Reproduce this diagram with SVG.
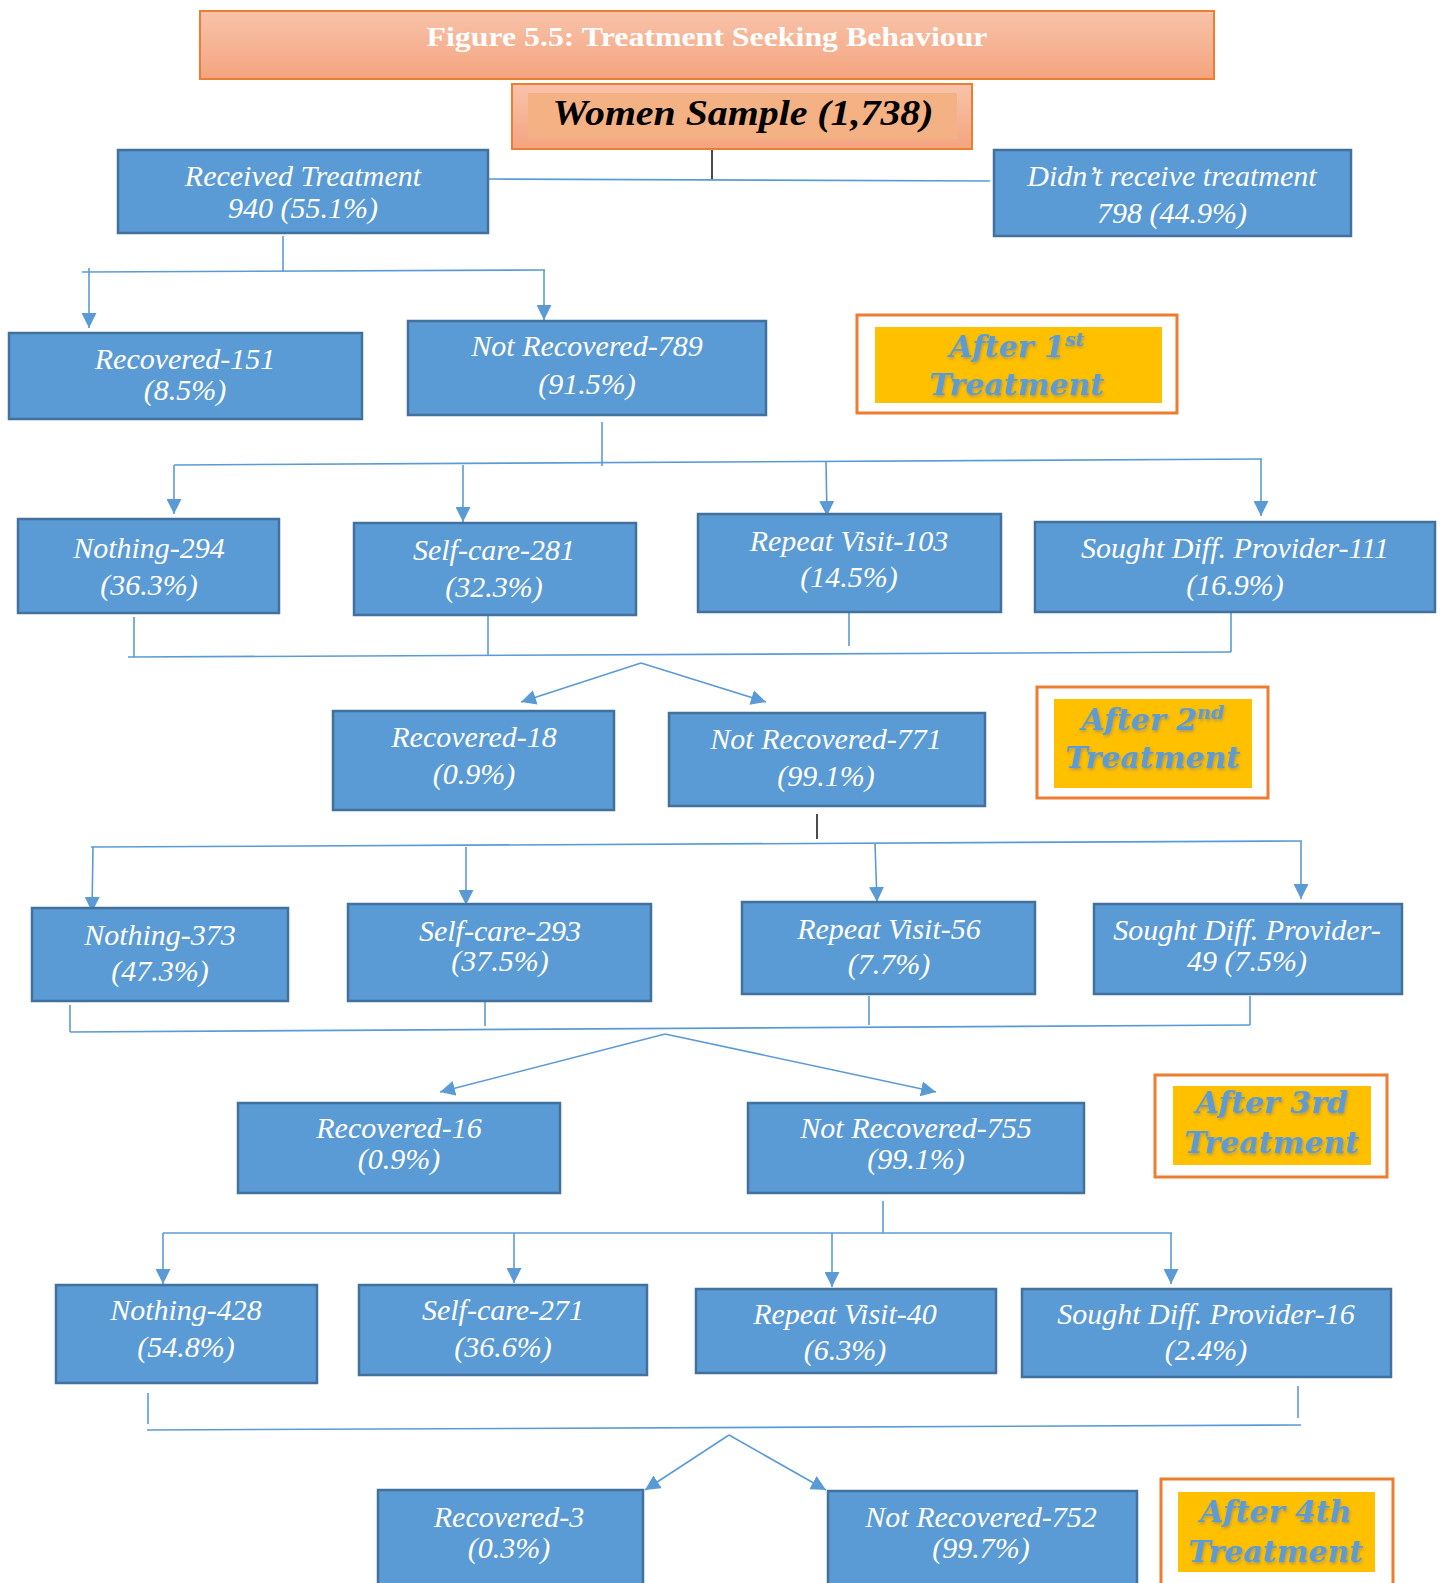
<svg xmlns="http://www.w3.org/2000/svg" width="1446" height="1583" viewBox="0 0 1446 1583">
<style>
.box{fill:#5b9bd5;stroke:#41719c;stroke-width:2.5}
.t{font-family:"Liberation Serif","Times New Roman",serif;font-style:italic;font-size:30px;fill:#ffffff;text-anchor:middle}
.ab{fill:#ffffff;stroke:#ed7d31;stroke-width:3}
.ai{fill:#ffc000}
.at{font-family:"DejaVu Serif",Georgia,serif;font-style:italic;font-weight:bold;font-size:30px;fill:#5b9bd5;text-anchor:middle}
.c{fill:none;stroke:#5b9bd5;stroke-width:1.6}
.a{fill:none;stroke:#5b9bd5;stroke-width:1.6;marker-end:url(#arr)}
.k{fill:none;stroke:#000000;stroke-width:1.4}
</style>
<defs>
<linearGradient id="og" x1="0" y1="0" x2="0" y2="1">
<stop offset="0" stop-color="#f8c3aa"/>
<stop offset="1" stop-color="#f4a47f"/>
</linearGradient>
<marker id="arr" viewBox="0 0 10 10" refX="10" refY="5" markerWidth="15" markerHeight="15" markerUnits="userSpaceOnUse" orient="auto">
<path d="M0,0 L10,5 L0,10 z" fill="#5b9bd5"/>
</marker>
<filter id="sh" x="-10%" y="-20%" width="120%" height="140%">
<feGaussianBlur in="SourceAlpha" stdDeviation="1.8" result="b"/>
<feOffset dx="1" dy="2" result="o"/>
<feFlood flood-color="#7f7f7f" flood-opacity="0.6"/>
<feComposite in2="o" operator="in" result="s"/>
<feMerge><feMergeNode in="s"/><feMergeNode in="SourceGraphic"/></feMerge>
</filter>
</defs>

<g id="title">
<rect x="200" y="11" width="1014" height="68" fill="url(#og)" stroke="#ed7d31" stroke-width="2"/>
<text x="707" y="46" font-family="Liberation Serif,serif" font-weight="bold" font-size="27" fill="#ffffff" text-anchor="middle" textLength="561" lengthAdjust="spacingAndGlyphs">Figure 5.5: Treatment Seeking Behaviour</text>
</g>

<g id="women-sample">
<rect x="512" y="84" width="460" height="65" fill="url(#og)" stroke="#ed7d31" stroke-width="2"/>
<rect x="528" y="93" width="429" height="46" fill="#f4b183"/>
<text x="743" y="125" font-family="Liberation Serif,serif" font-style="italic" font-weight="bold" font-size="36" fill="#000000" text-anchor="middle" textLength="381" lengthAdjust="spacingAndGlyphs">Women Sample (1,738)</text>
</g>

<g id="connectors">
<path class="k" d="M712,150 L712,180"/>
<path class="c" d="M488,179 L990,181"/>
<path class="c" d="M283,236 L283,272"/>
<path class="c" d="M82,272 L545,270"/>
<path class="a" d="M89,268 L89,328"/>
<path class="a" d="M544,270 L544,320"/>

<path class="c" d="M602,422 L602,466"/>
<path class="c" d="M174,465 L1262,459"/>
<path class="a" d="M174,465 L174,514"/>
<path class="a" d="M463,465 L463,522"/>
<path class="a" d="M826,462 L827,516"/>
<path class="a" d="M1261,459 L1261,516"/>

<path class="c" d="M134,617 L134,657"/>
<path class="c" d="M488,615 L488,655"/>
<path class="c" d="M849,613 L849,646"/>
<path class="c" d="M1231,612 L1231,652"/>
<path class="c" d="M128,657 L1231,652"/>
<path class="a" d="M641,663 L521,702"/>
<path class="a" d="M641,663 L766,702"/>

<path class="k" d="M817,814 L817,839"/>
<path class="c" d="M91,847 L1302,841"/>
<path class="a" d="M93,847 L92,912"/>
<path class="a" d="M466,847 L466,905"/>
<path class="a" d="M875,844 L877,902"/>
<path class="a" d="M1301,841 L1301,899"/>

<path class="c" d="M70,1005 L70,1032"/>
<path class="c" d="M485,1002 L485,1026"/>
<path class="c" d="M869,996 L869,1025"/>
<path class="c" d="M1250,996 L1250,1025"/>
<path class="c" d="M70,1032 L1250,1025"/>
<path class="a" d="M665,1034 L440,1092"/>
<path class="a" d="M665,1034 L936,1092"/>

<path class="c" d="M883,1201 L883,1233"/>
<path class="c" d="M163,1233 L1172,1233"/>
<path class="a" d="M163,1233 L163,1284"/>
<path class="a" d="M514,1233 L514,1283"/>
<path class="a" d="M832,1233 L832,1287"/>
<path class="a" d="M1171,1233 L1171,1284"/>

<path class="c" d="M148,1393 L148,1424"/>
<path class="c" d="M1298,1386 L1298,1418"/>
<path class="c" d="M147,1430 L1301,1425"/>
<path class="a" d="M729,1435 L645,1490"/>
<path class="a" d="M729,1435 L826,1490"/>
</g>

<g id="received"><rect class="box" x="118" y="150" width="370" height="83"/>
<text class="t" x="303" y="186">Received Treatment</text><text class="t" x="303" y="218">940 (55.1%)</text></g>
<g id="didnt"><rect class="box" x="994" y="150" width="357" height="86"/>
<text class="t" x="1172" y="186">Didn’t receive treatment</text><text class="t" x="1172" y="223">798 (44.9%)</text></g>

<g id="rec151"><rect class="box" x="9" y="333" width="353" height="86"/>
<text class="t" x="185" y="369">Recovered-151</text><text class="t" x="185" y="400">(8.5%)</text></g>
<g id="notrec789"><rect class="box" x="408" y="321" width="358" height="94"/>
<text class="t" x="587" y="356">Not Recovered-789</text><text class="t" x="587" y="394">(91.5%)</text></g>

<g id="after1"><rect class="ab" x="857" y="315" width="320" height="98"/><rect class="ai" x="875" y="327" width="287" height="76"/>
<text class="at" x="1017" y="357" filter="url(#sh)">After 1<tspan font-size="19" dy="-11">st</tspan></text>
<text class="at" x="1017" y="395" filter="url(#sh)">Treatment</text></g>

<g id="nothing294"><rect class="box" x="18" y="519" width="261" height="94"/>
<text class="t" x="149" y="558">Nothing-294</text><text class="t" x="149" y="595">(36.3%)</text></g>
<g id="selfcare281"><rect class="box" x="354" y="523" width="282" height="92"/>
<text class="t" x="494" y="560">Self-care-281</text><text class="t" x="494" y="597">(32.3%)</text></g>
<g id="repeat103"><rect class="box" x="698" y="514" width="303" height="98"/>
<text class="t" x="849" y="551">Repeat Visit-103</text><text class="t" x="849" y="587">(14.5%)</text></g>
<g id="sought111"><rect class="box" x="1035" y="522" width="400" height="90"/>
<text class="t" x="1235" y="558">Sought Diff. Provider-111</text><text class="t" x="1235" y="595">(16.9%)</text></g>

<g id="rec18"><rect class="box" x="333" y="711" width="281" height="99"/>
<text class="t" x="474" y="747">Recovered-18</text><text class="t" x="474" y="784">(0.9%)</text></g>
<g id="notrec771"><rect class="box" x="669" y="713" width="316" height="93"/>
<text class="t" x="826" y="749">Not Recovered-771</text><text class="t" x="826" y="786">(99.1%)</text></g>

<g id="after2"><rect class="ab" x="1037" y="687" width="231" height="111"/><rect class="ai" x="1054" y="699" width="198" height="89"/>
<text class="at" x="1153" y="730" filter="url(#sh)">After 2<tspan font-size="19" dy="-11">nd</tspan></text>
<text class="at" x="1153" y="768" filter="url(#sh)">Treatment</text></g>

<g id="nothing373"><rect class="box" x="32" y="908" width="256" height="93"/>
<text class="t" x="160" y="945">Nothing-373</text><text class="t" x="160" y="981">(47.3%)</text></g>
<g id="selfcare293"><rect class="box" x="348" y="904" width="303" height="97"/>
<text class="t" x="500" y="941">Self-care-293</text><text class="t" x="500" y="971">(37.5%)</text></g>
<g id="repeat56"><rect class="box" x="742" y="902" width="293" height="92"/>
<text class="t" x="889" y="939">Repeat Visit-56</text><text class="t" x="889" y="974">(7.7%)</text></g>
<g id="sought49"><rect class="box" x="1094" y="904" width="308" height="90"/>
<text class="t" x="1247" y="940">Sought Diff. Provider-</text><text class="t" x="1247" y="971">49 (7.5%)</text></g>

<g id="rec16"><rect class="box" x="238" y="1103" width="322" height="90"/>
<text class="t" x="399" y="1138">Recovered-16</text><text class="t" x="399" y="1169">(0.9%)</text></g>
<g id="notrec755"><rect class="box" x="748" y="1103" width="336" height="90"/>
<text class="t" x="916" y="1138">Not Recovered-755</text><text class="t" x="916" y="1169">(99.1%)</text></g>

<g id="after3"><rect class="ab" x="1155" y="1075" width="232" height="102"/><rect class="ai" x="1173" y="1086" width="198" height="79"/>
<text class="at" x="1272" y="1113" filter="url(#sh)">After 3rd</text>
<text class="at" x="1272" y="1153" filter="url(#sh)">Treatment</text></g>

<g id="nothing428"><rect class="box" x="56" y="1285" width="261" height="98"/>
<text class="t" x="186" y="1320">Nothing-428</text><text class="t" x="186" y="1357">(54.8%)</text></g>
<g id="selfcare271"><rect class="box" x="359" y="1285" width="288" height="90"/>
<text class="t" x="503" y="1320">Self-care-271</text><text class="t" x="503" y="1357">(36.6%)</text></g>
<g id="repeat40"><rect class="box" x="696" y="1289" width="300" height="84"/>
<text class="t" x="845" y="1324">Repeat Visit-40</text><text class="t" x="845" y="1360">(6.3%)</text></g>
<g id="sought16"><rect class="box" x="1022" y="1289" width="369" height="88"/>
<text class="t" x="1206" y="1324">Sought Diff. Provider-16</text><text class="t" x="1206" y="1360">(2.4%)</text></g>

<g id="rec3"><rect class="box" x="378" y="1490" width="265" height="110"/>
<text class="t" x="509" y="1527">Recovered-3</text><text class="t" x="509" y="1558">(0.3%)</text></g>
<g id="notrec752"><rect class="box" x="828" y="1491" width="309" height="110"/>
<text class="t" x="981" y="1527">Not Recovered-752</text><text class="t" x="981" y="1558">(99.7%)</text></g>

<g id="after4"><rect class="ab" x="1161" y="1479" width="232" height="110"/><rect class="ai" x="1178" y="1492" width="197" height="80"/>
<text class="at" x="1276" y="1522" filter="url(#sh)">After 4th</text>
<text class="at" x="1276" y="1562" filter="url(#sh)">Treatment</text></g>
</svg>
